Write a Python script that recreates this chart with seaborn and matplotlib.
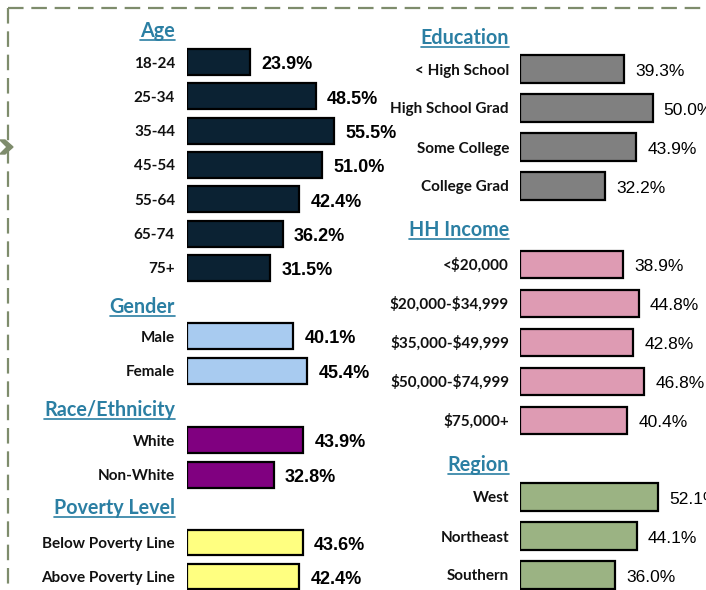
import matplotlib
matplotlib.use("Agg")
import matplotlib.pyplot as plt
import seaborn as sns
from matplotlib.lines import Line2D
from matplotlib.patches import Polygon

# ---------------- data ----------------
age_cats = ["18-24", "25-34", "35-44", "45-54", "55-64", "65-74", "75+"]
age_vals = [23.9, 48.5, 55.5, 51.0, 42.4, 36.2, 31.5]

gender_cats = ["Male", "Female"]
gender_vals = [40.1, 45.4]

race_cats = ["White", "Non-White"]
race_vals = [43.9, 32.8]

poverty_cats = ["Below Poverty Line", "Above Poverty Line"]
poverty_vals = [43.6, 42.4]

edu_cats = ["< High School", "High School Grad", "Some College", "College Grad"]
edu_vals = [39.3, 50.0, 43.9, 32.2]

income_cats = ["<$20,000", "$20,000-$34,999", "$35,000-$49,999", "$50,000-$74,999", "$75,000+"]
income_vals = [38.9, 44.8, 42.8, 46.8, 40.4]

region_cats = ["West", "Northeast", "Southern"]
region_vals = [52.1, 44.1, 36.0]

# ---------------- style ----------------
sns.set_style("white")
try:
    plt.rcParams["text.parse_math"] = False
except KeyError:
    pass
LABEL_FONT = ["Lato", "DejaVu Sans"]
VALUE_FONT_L = ["Liberation Sans", "DejaVu Sans"]
VALUE_FONT_R = ["Liberation Sans Narrow", "Liberation Sans", "DejaVu Sans"]
TITLE_COLOR = "#2B7FA3"
W, H = 706, 590
PX_PER_PCT = 2.65

fig = plt.figure(figsize=(W / 100, H / 100), dpi=100)
fig.patch.set_facecolor("white")


def fx(x):
    return x / W


def fy(y):
    return 1 - y / H


titles = []


def group(title, title_y, cats, vals, color, bar_left, label_right, first_c, pitch,
          bar_h, value_font, value_weight, value_size):
    n = len(cats)
    top = first_c - pitch / 2
    height = n * pitch
    width_px = 260
    ax = fig.add_axes([fx(bar_left), fy(top + height), width_px / W, height / H])
    sns.barplot(x=vals, y=cats, ax=ax, color=color, edgecolor="black",
                linewidth=1.6, width=bar_h / pitch, orient="h", saturation=1)
    ax.set_xlim(0, width_px / PX_PER_PCT)
    ax.set_ylim(n - 0.5, -0.5)
    for s in ax.spines.values():
        s.set_visible(False)
    ax.set_xticks([])
    ax.set_xlabel("")
    ax.set_ylabel("")
    ax.patch.set_alpha(0)
    ax.set_yticks(range(n))
    ax.set_yticklabels([c.replace("$", r"\$") if plt.rcParams.get("text.parse_math", True) else c
                        for c in cats])
    ax.tick_params(axis="y", length=0, pad=(bar_left - label_right) * 0.72)
    for t in ax.get_yticklabels():
        t.set_fontfamily(LABEL_FONT)
        t.set_fontweight("bold")
        t.set_fontsize(11)
        t.set_color("#111111")
    anns = ax.bar_label(ax.containers[0], labels=[f"{v:.1f}%" for v in vals],
                        padding=8, fontsize=value_size, fontweight=value_weight,
                        family=value_font, color="black")
    for a in anns:
        a.xyann = (8, -2)
    t = fig.text(fx(label_right), fy(title_y), title, ha="right", va="center",
                 fontsize=14.2, fontweight="bold", family=LABEL_FONT, color=TITLE_COLOR)
    titles.append(t)


# left column
group("Age", 31, age_cats, age_vals, "#0B2233", 187, 175, 62, 34.33, 26,
      VALUE_FONT_L, "bold", 13)
group("Gender", 307, gender_cats, gender_vals, "#A8CBF0", 187, 175, 336, 35, 26,
      VALUE_FONT_L, "bold", 13)
group("Race/Ethnicity", 410, race_cats, race_vals, "#800080", 187, 175, 440, 35, 26,
      VALUE_FONT_L, "bold", 13)
group("Poverty Level", 508, poverty_cats, poverty_vals, "#FFFF80", 187, 175, 543, 34, 25,
      VALUE_FONT_L, "bold", 13)

# right column
group("Education", 38, edu_cats, edu_vals, "#808080", 520, 509, 69, 39, 28,
      VALUE_FONT_R, "normal", 12.5)
group("HH Income", 230, income_cats, income_vals, "#DE9BB3", 520, 509, 264, 39, 27,
      VALUE_FONT_R, "normal", 12.5)
group("Region", 465, region_cats, region_vals, "#9BB383", 520, 509, 497, 39, 28,
      VALUE_FONT_R, "normal", 12.5)

# underline titles
fig.canvas.draw()
renderer = fig.canvas.get_renderer()
for t in titles:
    bb = t.get_window_extent(renderer)
    y = bb.y0 + 1
    fig.add_artist(Line2D([bb.x0 / W, bb.x1 / W], [y / H, y / H],
                          transform=fig.transFigure, color=TITLE_COLOR, lw=1.2))

# dashed frame and arrow
frame_c = "#7E8C6C"
fig.add_artist(Line2D([fx(8), fx(706)], [fy(8), fy(8)], transform=fig.transFigure,
                      color=frame_c, lw=1.6, linestyle=(0, (7, 3.5))))
fig.add_artist(Line2D([fx(8), fx(8)], [fy(8), fy(590)], transform=fig.transFigure,
                      color=frame_c, lw=1.6, linestyle=(0, (7, 3.5))))
arrow = Polygon([(fx(0), fy(140)), (fx(5), fy(140)), (fx(13), fy(147)), (fx(5), fy(154)),
                 (fx(0), fy(154)), (fx(7), fy(147))], closed=True,
                transform=fig.transFigure, color=frame_c)
fig.add_artist(arrow)

fig.savefig("out.png", dpi=100)
